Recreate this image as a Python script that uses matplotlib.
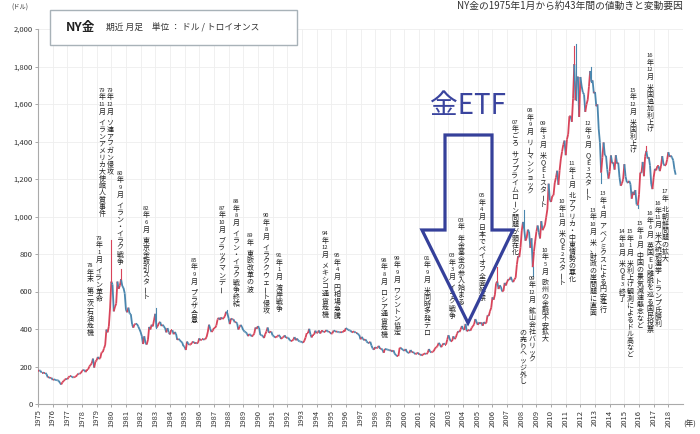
import matplotlib.pyplot as plt
from matplotlib.collections import LineCollection
from matplotlib.patches import Polygon, Rectangle

plt.rcParams['font.family'] = ['Noto Sans CJK JP', 'DejaVu Sans']

W, H = 700, 434

# NY gold, front month, monthly close (USD / troy oz)
gold_1975_1979 = [
    175, 180, 177, 167, 167, 166, 166, 159, 142, 143, 138, 140,
    128, 132, 129, 128, 126, 124, 112, 104, 116, 123, 130, 135,
    132, 142, 149, 149, 144, 141, 145, 146, 154, 162, 161, 165,
    175, 182, 181, 170, 184, 184, 200, 208, 217, 242, 194, 226,
    233, 251, 240, 245, 275, 277, 296, 315, 397, 382, 415, 512,
]
gold_1980_1989 = [
    653, 637, 494, 518, 535, 653, 614, 631, 666, 629, 619, 590,
    502, 489, 514, 482, 479, 426, 407, 425, 428, 427, 414, 400,
    384, 362, 320, 361, 325, 317, 342, 411, 397, 423, 414, 448,
    481, 408, 415, 432, 438, 416, 423, 414, 405, 382, 405, 382,
    371, 394, 394, 372, 384, 374, 342, 348, 341, 333, 329, 309,
    306, 288, 333, 321, 316, 317, 327, 333, 326, 326, 323, 327,
    350, 339, 345, 345, 344, 346, 357, 384, 423, 401, 384, 391,
    405, 406, 419, 451, 460, 449, 462, 453, 459, 468, 492, 484,
    458, 426, 456, 451, 452, 436, 437, 430, 397, 412, 422, 410,
    394, 387, 383, 376, 362, 373, 369, 360, 366, 375, 408, 401,
]
gold_1990_1999 = [
    415, 407, 368, 367, 363, 352, 372, 387, 408, 380, 384, 386,
    366, 362, 355, 357, 360, 368, 362, 347, 354, 357, 366, 353,
    354, 353, 341, 336, 337, 343, 357, 340, 349, 339, 334, 333,
    330, 327, 337, 354, 378, 378, 401, 372, 355, 370, 370, 391,
    378, 381, 392, 376, 388, 388, 384, 385, 394, 389, 383, 383,
    374, 377, 392, 389, 385, 387, 383, 382, 384, 382, 387, 387,
    405, 400, 396, 392, 391, 382, 385, 387, 379, 379, 372, 369,
    345, 358, 348, 340, 345, 334, 326, 325, 332, 311, 296, 290,
    303, 297, 301, 310, 294, 296, 289, 273, 294, 292, 291, 288,
    285, 287, 279, 286, 268, 261, 255, 255, 299, 300, 291, 290,
]
gold_2000_2009 = [
    283, 293, 277, 274, 272, 288, 276, 277, 273, 265, 270, 274,
    264, 266, 258, 264, 267, 270, 266, 273, 293, 279, 275, 279,
    282, 297, 302, 308, 326, 318, 303, 313, 324, 317, 317, 343,
    367, 347, 334, 336, 361, 346, 354, 375, 388, 384, 398, 416,
    400, 395, 427, 388, 393, 395, 391, 407, 415, 425, 453, 438,
    422, 435, 428, 435, 417, 437, 429, 433, 473, 470, 495, 513,
    569, 556, 582, 644, 653, 613, 633, 623, 600, 603, 646, 632,
    651, 665, 662, 678, 659, 650, 665, 673, 743, 789, 783, 836,
    923, 971, 933, 871, 885, 930, 918, 833, 884, 730, 814, 869,
    919, 952, 916, 883, 975, 927, 939, 955, 996, 1040, 1175, 1087,
]
gold_2010_2018 = [
    1078, 1109, 1113, 1179, 1207, 1244, 1169, 1246, 1307, 1346, 1383, 1405,
    1327, 1411, 1439, 1535, 1536, 1505, 1628, 1813, 1620, 1722, 1746, 1531,
    1744, 1696, 1662, 1651, 1558, 1598, 1622, 1692, 1776, 1719, 1726, 1657,
    1664, 1588, 1598, 1467, 1394, 1234, 1314, 1395, 1326, 1323, 1250, 1202,
    1240, 1326, 1284, 1288, 1250, 1327, 1282, 1287, 1210, 1164, 1176, 1199,
    1279, 1213, 1183, 1180, 1190, 1172, 1095, 1132, 1115, 1141, 1064, 1060,
    1116, 1234, 1233, 1291, 1215, 1321, 1350, 1309, 1316, 1272, 1173, 1146,
    1210, 1254, 1246, 1268, 1268, 1242, 1269, 1322, 1280, 1271, 1275, 1303,
    1343, 1318, 1325, 1315, 1299, 1252, 1223,
]

# monthly highs / lows that stand out as wicks (year, month, price)
wick_months = [(1980, 1), (1980, 9), (1983, 2), (1987, 12), (2006, 5),
               (2008, 3), (2008, 10), (2011, 8), (2011, 9), (2012, 10),
               (2013, 6), (2015, 12), (2016, 7), (1976, 8)]
wick_prices = [875, 720, 511, 502, 730, 1033, 681, 1910, 1920, 1795,
               1180, 1046, 1375, 103]

years = list(range(1975, 2019))
y_ticks = list(range(0, 2001, 200))

# events, written top-to-bottom (x px, y px, text)
events = [
    (102, 87, "79年11月 イランアメリカ大使館人質事件"),
    (110, 87, "79年12月 ソ連アフガン侵攻"),
    (120, 170, "80年9月 イラン・イラク戦争"),
    (99, 235, "79年1月 イラン革命"),
    (90, 262, "78年末 第二次石油危機"),
    (146, 205, "82年6月 東京金取引スタート"),
    (194, 257, "85年9月 プラザ合意"),
    (222, 205, "87年10月 ブラックマンデー"),
    (236, 198, "88年8月 イラン・イラク戦争終結"),
    (250, 232, "89年 東欧改革の波"),
    (266, 212, "90年8月 イラククウェート侵攻"),
    (279, 252, "91年1月 湾岸戦争"),
    (325, 230, "94年12月 メキシコ通貨危機"),
    (337, 252, "95年4月 円相場急騰"),
    (384, 257, "98年8月 ロシア通貨危機"),
    (397, 255, "99年9月 ワシントン協定"),
    (427, 255, "01年9月 米同時多発テロ"),
    (452, 252, "03年3月 イラク戦争"),
    (461, 217, "03年 年金基金の参入始まる"),
    (482, 192, "05年4月 日本でペイオフ全面解禁"),
    (515, 119, "07年ごろ サブプライムローン問題が顕在化"),
    (530, 107, "08年9月 リーマンショック"),
    (543, 120, "09年3月 米QE1スタート"),
    (532, 275, "09年12月 鉱山会社バリック"),
    (523, 329, "の売りヘッジ外し"),
    (545, 247, "10年5月 欧州の金融不安拡大"),
    (562, 198, "10年11月 米QE2スタート"),
    (572, 160, "11年1月 北アフリカ・中東情勢の悪化"),
    (588, 120, "12年9月 QE3スタート"),
    (593, 207, "13年10月 米、財政の崖問題に直面"),
    (603, 190, "13年4月 アベノミクスによる円安進行"),
    (622, 228, "14年10月 米QE3終了"),
    (630, 228, "15年1月 米利上げ観測によるドル高など"),
    (640, 220, "15年8月 中国の景気減速懸念など"),
    (650, 210, "16年6月 英国EU離脱を巡る国民投票"),
    (658, 200, "16年11月 米大統領選挙 トランプ氏勝利"),
    (665, 188, "17年 北朝鮮問題の拡大"),
    (633, 87, "15年12月 米国利上げ"),
    (650, 52, "16年12月 米国追加利上げ"),
]

UP = '#d8445a'
DOWN = '#4a86ae'

fig = plt.figure(figsize=(7, 4.34), dpi=100)
ax = fig.add_axes([38 / W, 1 - 404 / H, (683 - 38) / W, (404 - 29) / H])


def fx(x):
    return x / W


def fy(y):
    return 1 - y / H


# price line, coloured by monthly direction
prices = gold_1975_1979 + gold_1980_1989 + gold_1990_1999 + gold_2000_2009 + gold_2010_2018
xs = [1975 + i / 12 for i in range(len(prices))]
segs, cols = [], []
for i in range(1, len(prices)):
    segs.append([(xs[i - 1], prices[i - 1]), (xs[i], prices[i])])
    cols.append(UP if prices[i] >= prices[i - 1] else DOWN)
ax.add_collection(LineCollection(segs, colors=cols, linewidths=1.3, zorder=3))

for (yr, mo), p in zip(wick_months, wick_prices):
    i = (yr - 1975) * 12 + mo - 1
    c = UP if prices[i] >= prices[i - 1] else DOWN
    ax.plot([xs[i], xs[i]], [prices[i], p], color=c, lw=0.8, zorder=3)

ax.set_xlim(1975, 2019)
ax.set_ylim(0, 2000)
ax.set_xticks(years)
ax.set_xticklabels([str(y) for y in years], rotation=90, fontsize=5.5, color='#333333')
ax.set_yticks(y_ticks)
ax.set_yticklabels([f"{v:,}" for v in y_ticks], fontsize=5.5, color='#333333')
ax.tick_params(length=2, width=0.6, color='#999999', pad=2)
ax.grid(True, color='#eeeeee', lw=0.6)
ax.set_axisbelow(True)
for s in ['top', 'right']:
    ax.spines[s].set_visible(False)
for s in ['left', 'bottom']:
    ax.spines[s].set_color('#aaaaaa')
    ax.spines[s].set_linewidth(0.8)


def tate(x, y, s, fs=5.0, step=7.0):
    toks = []
    i = 0
    while i < len(s):
        if s[i].isdigit():
            j = i
            while j < len(s) and s[j].isdigit():
                j += 1
            toks.append(s[i:j])
            i = j
        else:
            toks.append(s[i])
            i += 1
    yy = y
    for t in toks:
        if t == ' ':
            yy += step * 0.6
            continue
        size = fs * 0.85 if t.isdigit() else fs
        rot = 90 if t == 'ー' else 0
        fig.text(fx(x), fy(yy + step / 2), t, fontsize=size, rotation=rot,
                 ha='center', va='center', color='#222222', zorder=5)
        yy += step


for x, y, s in events:
    tate(x, y, s)

# gold ETF arrow
arrow_px = [(445, 135), (492, 135), (492, 230), (513, 230), (468, 323),
            (422, 230), (445, 230)]
fig.patches.append(Polygon([(fx(a), fy(b)) for a, b in arrow_px], closed=True,
                           fill=False, edgecolor='#35409a', lw=2.3,
                           transform=fig.transFigure, zorder=6))
fig.text(fx(468), fy(106), "金ETF", fontsize=20, color='#3a449e',
         ha='center', va='center', zorder=6)

# title box
fig.patches.append(Rectangle((fx(50), fy(45)), (297 - 50) / W, 35 / H,
                             facecolor='white', edgecolor='#a8b2b8', lw=1,
                             transform=fig.transFigure, zorder=6))
fig.text(fx(66), fy(28), "NY金", fontsize=9, fontweight='bold',
         ha='left', va='center', color='#222222', zorder=7)
fig.text(fx(106), fy(28), "期近 月足　単位 ： ドル / トロイオンス", fontsize=6.3,
         ha='left', va='center', color='#333333', zorder=7)

fig.text(fx(570), fy(6), "NY金の1975年1月から約43年間の値動きと変動要因",
         fontsize=7, ha='center', va='center', color='#333333')
fig.text(fx(20), fy(8), "(ドル)", fontsize=4.5, ha='center', va='center', color='#333333')
fig.text(fx(690), fy(425), "(年)", fontsize=5.5, ha='center', va='center', color='#333333')

fig.savefig('out.png', dpi=100)
